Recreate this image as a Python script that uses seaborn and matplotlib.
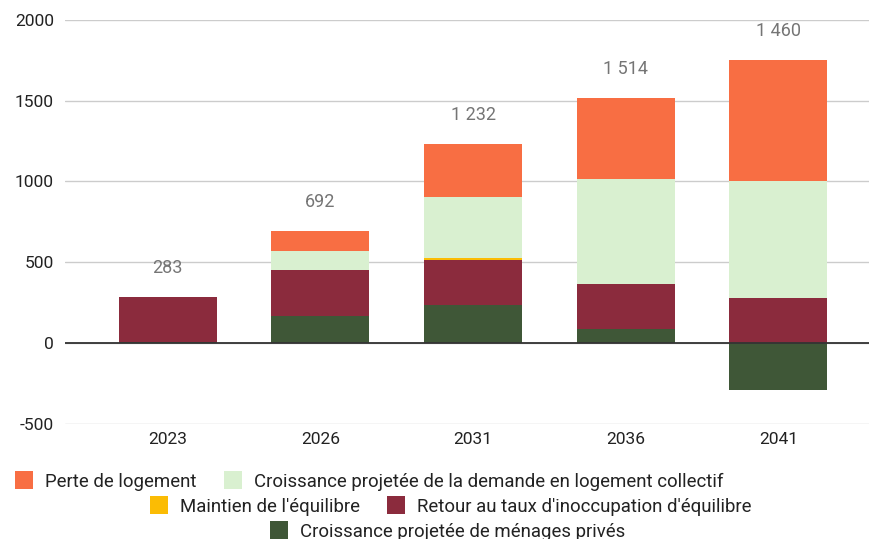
import matplotlib
matplotlib.use("Agg")
import matplotlib.pyplot as plt
from matplotlib.patches import Patch
import seaborn as sns
import numpy as np
import pandas as pd

# data
years = ["2023", "2026", "2031", "2036", "2041"]
menages_prives = [5, 165, 237, 89, -290]
retour_taux = [278, 287, 277, 276, 280]
maintien = [0, 0, 12, 0, 0]
demande_collectif = [0, 118, 380, 648, 723]
perte_logement = [0, 122, 326, 501, 747]

series_names = [
    "Croissance projetée de ménages privés",
    "Retour au taux d'inoccupation d'équilibre",
    "Maintien de l'équilibre",
    "Croissance projetée de la demande en logement collectif",
    "Perte de logement",
]
series_values = [menages_prives, retour_taux, maintien, demande_collectif, perte_logement]
colors = ["#3F5737", "#8B2B3D", "#FBBC04", "#D9F0D0", "#F86E43"]

sns.set_theme(style="white")
plt.rcParams["font.family"] = ["Roboto", "DejaVu Sans"]

fig = plt.figure(figsize=(8.69, 5.39), dpi=100)
ax = fig.add_axes([65 / 869, 115 / 539, 1 - 65 / 869, 0.7501])

# stack positives upward and negatives downward
pos_base = np.zeros(len(years))
neg_base = np.zeros(len(years))
for name, vals, col in zip(series_names, series_values, colors):
    vals = np.array(vals, dtype=float)
    bottom = np.where(vals >= 0, pos_base, neg_base)
    df = pd.DataFrame({"year": years, "value": vals})
    sns.barplot(data=df, x="year", y="value", color=col, width=0.642,
                bottom=bottom, ax=ax, linewidth=0, saturation=1, errorbar=None)
    pos_base += np.clip(vals, 0, None)
    neg_base += np.clip(vals, None, 0)

# totals above each bar
totals = np.sum(series_values, axis=0)
for i, (top, tot) in enumerate(zip(pos_base, totals)):
    label = f"{int(tot):,}".replace(",", " ")
    ax.text(i, top + 180, label, ha="center", va="center",
            fontsize=13, color="#757575", clip_on=False)

ax.set_xlim(-0.673, 4.594)
ax.set_ylim(-500, 2000)
ax.set_yticks([-500, 0, 500, 1000, 1500, 2000])
ax.set_yticklabels(["-500", "0", "500", "1000", "1500", "2000"])
ax.set_xlabel("")
ax.set_ylabel("")
ax.grid(axis="y", color="#CCCCCC", linewidth=1)
ax.set_axisbelow(True)
ax.axhline(0, color="#333333", linewidth=1.3, zorder=3)
for s in ax.spines.values():
    s.set_visible(False)
ax.tick_params(axis="both", length=0, labelsize=12.5, colors="#222222")
ax.tick_params(axis="y", pad=8)
ax.tick_params(axis="x", pad=6)

# legend laid out in three rows like the original
def legend_row(idx, x_left, y_center):
    handles = [Patch(facecolor=colors[i], edgecolor="none", label=series_names[i]) for i in idx]
    leg = fig.legend(handles=handles, loc="center left", bbox_to_anchor=(x_left / 869, 1 - y_center / 539),
                     ncol=len(handles), frameon=False, fontsize=13.4, handlelength=0.97,
                     handleheight=1.07, handletextpad=0.65, columnspacing=1.45, borderpad=0, borderaxespad=0)
    for t in leg.get_texts():
        t.set_color("#222222")
    return leg

legend_row([4, 3], 15, 481)
legend_row([2, 1], 150, 506)
legend_row([0], 270, 531)

fig.savefig("out.png", dpi=100)
